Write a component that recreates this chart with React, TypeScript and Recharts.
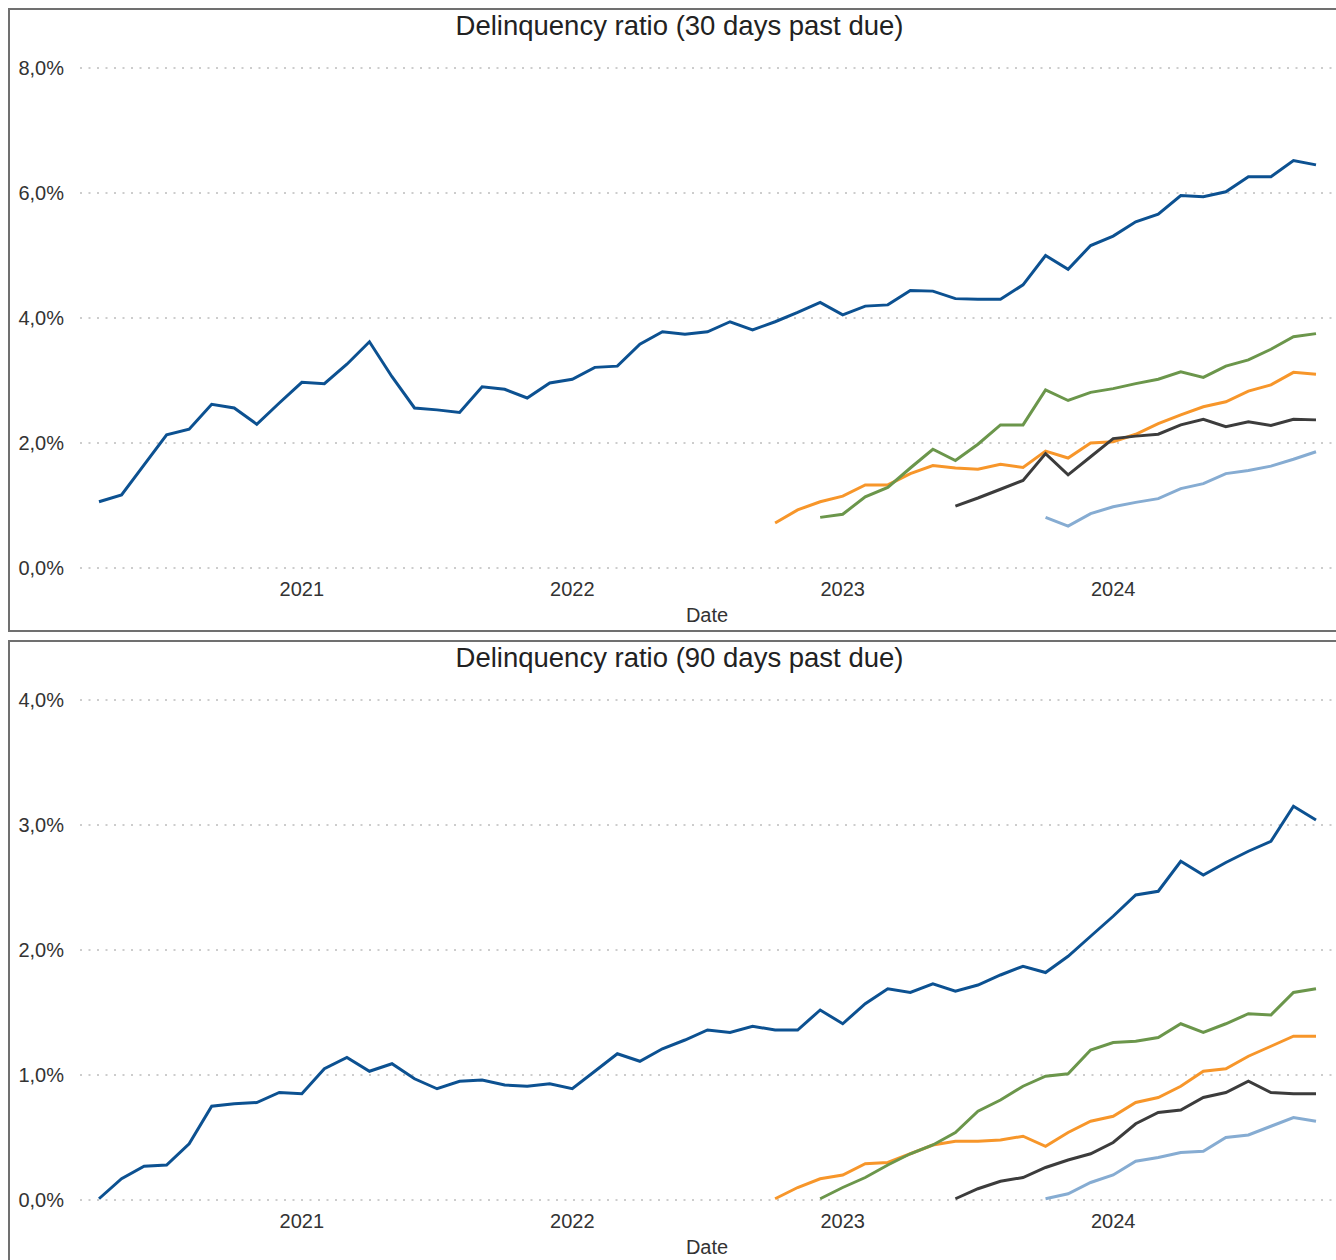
import React from 'react';
import { LineChart, Line, XAxis, YAxis, CartesianGrid } from 'recharts';

const FONT = '"Liberation Sans", Arial, sans-serif';
const FIRST_MONTH = '2020-04';
const YEAR_TICKS = ['2021-01', '2022-01', '2023-01', '2024-01'];

// delinquency ratio in %, one value per month from the series' start month
const total30 = [
  1.06, 1.17, 1.65, 2.13, 2.22, 2.62, 2.56, 2.3, 2.64, 2.97,
  2.95, 3.26, 3.62, 3.06, 2.56, 2.53, 2.49, 2.9, 2.86, 2.72,
  2.96, 3.02, 3.21, 3.23, 3.58, 3.78, 3.74, 3.78, 3.94, 3.81,
  3.94, 4.09, 4.25, 4.05, 4.19, 4.21, 4.44, 4.43, 4.31, 4.3,
  4.3, 4.53, 5.0, 4.78, 5.16, 5.31, 5.54, 5.66, 5.96, 5.94,
  6.02, 6.26, 6.26, 6.52, 6.45,
];
const oct22_30 = [
  0.72, 0.93, 1.06, 1.15, 1.33, 1.33, 1.51, 1.64, 1.6, 1.58,
  1.66, 1.61, 1.87, 1.76, 2.0, 2.02, 2.14, 2.31, 2.45, 2.58,
  2.66, 2.83, 2.93, 3.13, 3.1,
];
const dec22_30 = [
  0.81, 0.86, 1.14, 1.29, 1.6, 1.9, 1.72, 1.98, 2.29, 2.29,
  2.85, 2.68, 2.81, 2.87, 2.95, 3.02, 3.14, 3.05, 3.23, 3.33,
  3.5, 3.7, 3.75,
];
const jun23_30 = [
  0.99, 1.12, 1.26, 1.4, 1.83, 1.49, 1.78, 2.07, 2.11, 2.14,
  2.29, 2.38, 2.26, 2.34, 2.28, 2.38, 2.37,
];
const oct23_30 = [
  0.81, 0.67, 0.87, 0.98, 1.05, 1.11, 1.27, 1.35, 1.51, 1.56,
  1.63, 1.74, 1.86,
];

const total90 = [
  0.01, 0.17, 0.27, 0.28, 0.45, 0.75, 0.77, 0.78, 0.86, 0.85,
  1.05, 1.14, 1.03, 1.09, 0.97, 0.89, 0.95, 0.96, 0.92, 0.91,
  0.93, 0.89, 1.03, 1.17, 1.11, 1.21, 1.28, 1.36, 1.34, 1.39,
  1.36, 1.36, 1.52, 1.41, 1.57, 1.69, 1.66, 1.73, 1.67, 1.72,
  1.8, 1.87, 1.82, 1.95, 2.11, 2.27, 2.44, 2.47, 2.71, 2.6,
  2.7, 2.79, 2.87, 3.15, 3.04,
];
const oct22_90 = [
  0.01, 0.1, 0.17, 0.2, 0.29, 0.3, 0.37, 0.44, 0.47, 0.47,
  0.48, 0.51, 0.43, 0.54, 0.63, 0.67, 0.78, 0.82, 0.91, 1.03,
  1.05, 1.15, 1.23, 1.31, 1.31,
];
const dec22_90 = [
  0.01, 0.1, 0.18, 0.28, 0.37, 0.44, 0.54, 0.71, 0.8, 0.91,
  0.99, 1.01, 1.2, 1.26, 1.27, 1.3, 1.41, 1.34, 1.41, 1.49,
  1.48, 1.66, 1.69,
];
const jun23_90 = [
  0.01, 0.09, 0.15, 0.18, 0.26, 0.32, 0.37, 0.46, 0.61, 0.7,
  0.72, 0.82, 0.86, 0.95, 0.86, 0.85, 0.85,
];
const oct23_90 = [
  0.01, 0.05, 0.14, 0.2, 0.31, 0.34, 0.38, 0.39, 0.5, 0.52,
  0.59, 0.66, 0.63,
];

const SERIES = [
  { key: 'total', name: 'Total', start: '2020-04', color: '#0c5191' },
  { key: 'oct22', name: 'Oct 2022', start: '2022-10', color: '#f7962a' },
  { key: 'dec22', name: 'Dec 2022', start: '2022-12', color: '#6b964b' },
  { key: 'jun23', name: 'Jun 2023', start: '2023-06', color: '#3c3c3c' },
  { key: 'oct23', name: 'Oct 2023', start: '2023-10', color: '#86acd2' },
];

const monthIndex = (key: string) => {
  const [y0, m0] = FIRST_MONTH.split('-').map(Number);
  const [y, m] = key.split('-').map(Number);
  return (y - y0) * 12 + (m - m0);
};

const monthLabel = (i: number) => {
  const [y0, m0] = FIRST_MONTH.split('-').map(Number);
  const t = y0 * 12 + (m0 - 1) + i;
  return `${Math.floor(t / 12)}-${String((t % 12) + 1).padStart(2, '0')}`;
};

const buildRows = (values: Record<string, number[]>) =>
  values.total.map((_, i) => {
    const row: Record<string, any> = { i, month: monthLabel(i) };
    SERIES.forEach((s) => {
      const k = i - monthIndex(s.start);
      row[s.key] = k >= 0 && k < values[s.key].length ? values[s.key][k] : null;
    });
    return row;
  });

const rows30 = buildRows({ total: total30, oct22: oct22_30, dec22: dec22_30, jun23: jun23_30, oct23: oct23_30 });
const rows90 = buildRows({ total: total90, oct22: oct22_90, dec22: dec22_90, jun23: jun23_90, oct23: oct23_90 });

const xTicks = YEAR_TICKS.map(monthIndex);
const fmtPct = (v: number) => `${v.toFixed(1).replace('.', ',')}%`;

const tickStyle = { fill: '#333', fontSize: 20, fontFamily: FONT };

const Panel: React.FC<{ title: string; data: any[]; yTicks: number[]; top: number }> = ({ title, data, yTicks, top }) => (
  <div
    style={{
      position: 'absolute',
      left: 0,
      top,
      width: 1328,
      height: 624,
      overflow: 'hidden',
      boxSizing: 'border-box',
      borderTop: '2px solid #707070',
      borderLeft: '2px solid #707070',
      borderBottom: '2px solid #707070',
      background: '#fff',
    }}
  >
    <div
      style={{
        position: 'absolute',
        left: 0,
        top: 0,
        width: 1339,
        textAlign: 'center',
        fontFamily: FONT,
        fontSize: 27.5,
        lineHeight: '32px',
        color: '#222',
      }}
    >
      {title}
    </div>
    <LineChart width={1339} height={620} data={data} margin={{ top: 58, right: 15, bottom: 0, left: 0 }}>
      <CartesianGrid vertical={false} stroke="#9a9a9a" strokeDasharray="2 6.5" />
      <XAxis
        dataKey="i"
        type="number"
        domain={['dataMin', 'dataMax']}
        padding={{ left: 19, right: 18 }}
        ticks={xTicks}
        interval={0}
        tickFormatter={(i: number) => monthLabel(i).slice(0, 4)}
        axisLine={false}
        tickLine={false}
        tickMargin={8}
        height={62}
        tick={tickStyle}
        label={{ value: 'Date', position: 'insideBottom', offset: 8, style: { ...tickStyle, fill: '#333' } }}
      />
      <YAxis
        domain={[yTicks[0], yTicks[yTicks.length - 1]]}
        ticks={yTicks}
        tickFormatter={fmtPct}
        axisLine={false}
        tickLine={false}
        tickMargin={10}
        width={70}
        tick={tickStyle}
      />
      {SERIES.map((s) => (
        <Line
          key={s.key}
          dataKey={s.key}
          name={s.name}
          stroke={s.color}
          strokeWidth={3}
          dot={false}
          type="linear"
          isAnimationActive={false}
        />
      ))}
    </LineChart>
  </div>
);

export default function App() {
  return (
    <div style={{ position: 'relative', width: 1328, height: 1252, overflow: 'hidden' }}>
      <style>{'html { overflow: hidden; } body { margin: 8px 0 0 8px; }'}</style>
      <Panel title="Delinquency ratio (30 days past due)" data={rows30} yTicks={[0, 2, 4, 6, 8]} top={0} />
      <Panel title="Delinquency ratio (90 days past due)" data={rows90} yTicks={[0, 1, 2, 3, 4]} top={632} />
    </div>
  );
}
